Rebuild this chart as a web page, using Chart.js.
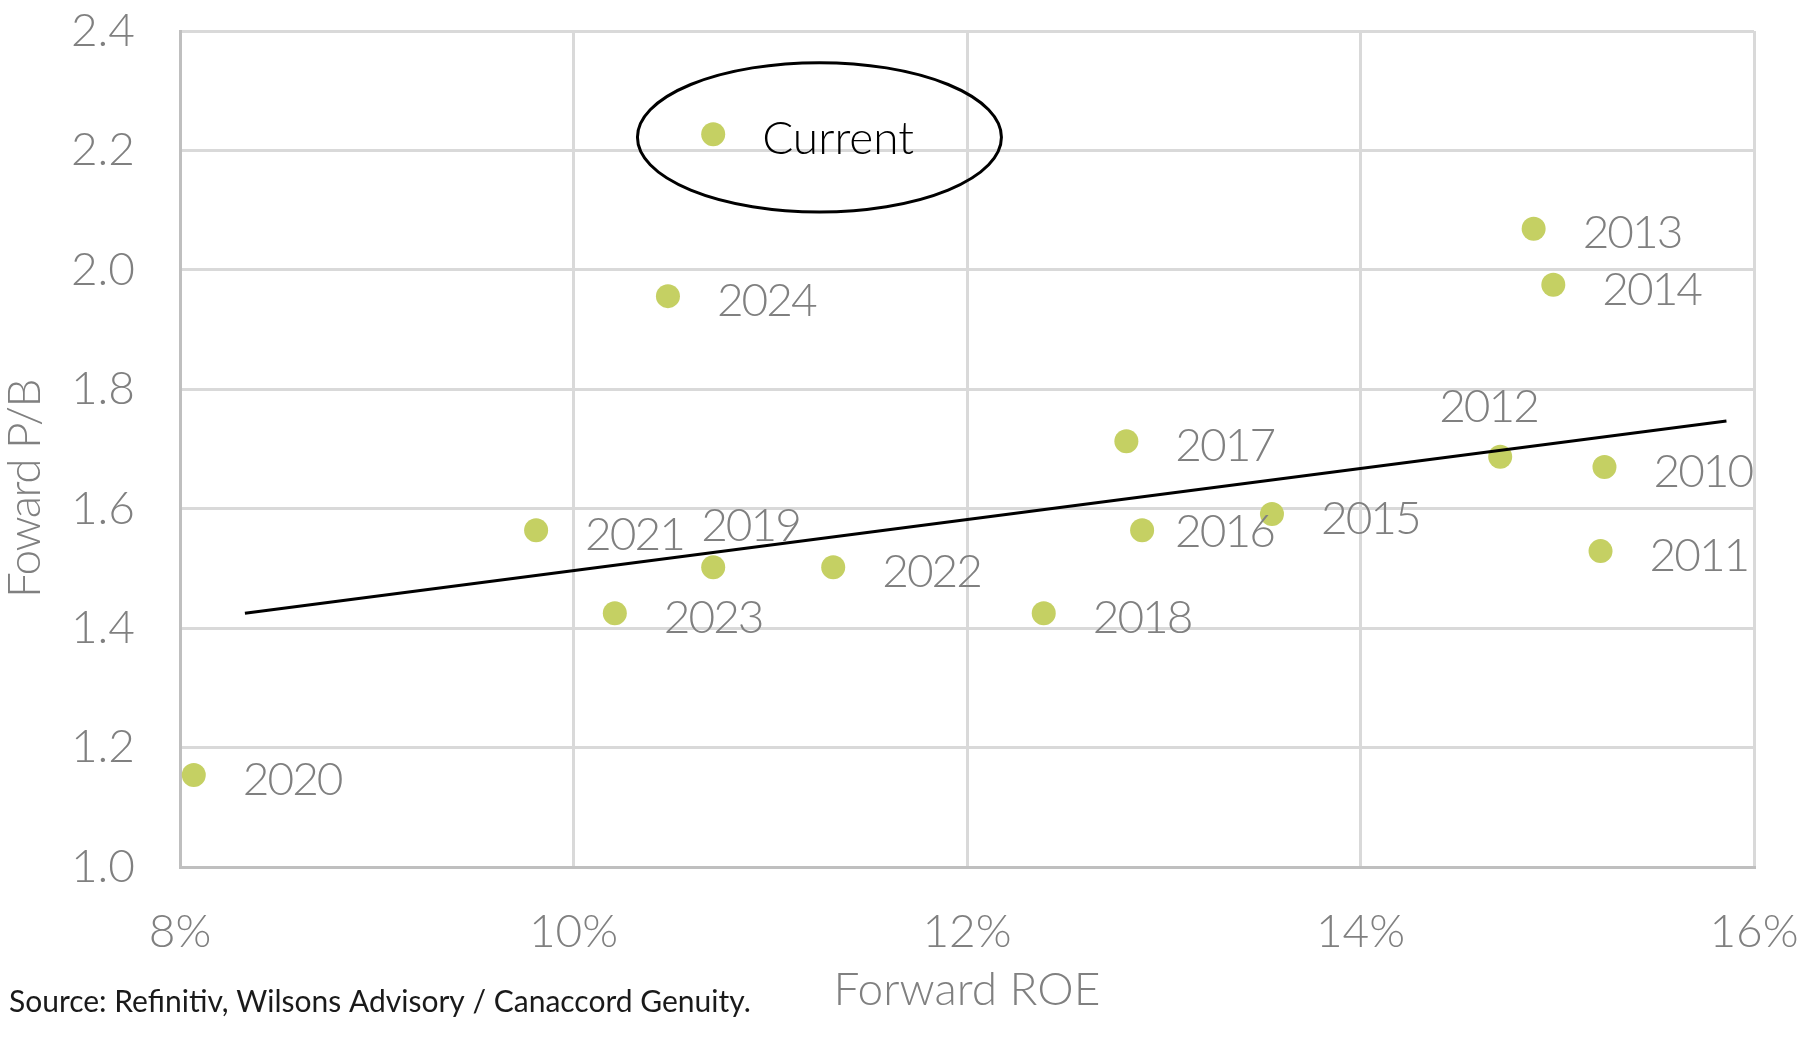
<!DOCTYPE html>
<html>
<head>
<meta charset="utf-8">
<title>Forward P/B vs Forward ROE</title>
<script src="https://cdn.jsdelivr.net/npm/chart.js@4.4.1/dist/chart.umd.min.js"></script>
<style>
  html, body { margin: 0; padding: 0; background: #fff; }
  #wrap { position: relative; width: 1800px; height: 1052px; }
</style>
</head>
<body>
<div id="wrap">
  <canvas id="pbChart" width="1800" height="1052"></canvas>
</div>
<script>
// values
const years = ['2010', '2011', '2012', '2013', '2014', '2015', '2016', '2017',
               '2018', '2019', '2020', '2021', '2022', '2023', '2024', 'Current'];
const forwardRoe = [15.24, 15.22, 14.71, 14.88, 14.98, 13.55, 12.89, 12.81,
                    12.39, 10.71, 8.07, 9.81, 11.32, 10.21, 10.48, 10.71];
const forwardPb = [1.670, 1.529, 1.687, 2.069, 1.975, 1.591, 1.564, 1.713,
                   1.425, 1.502, 1.154, 1.564, 1.502, 1.425, 1.956, 2.227];

// trend line end points
const trendRoe = [8.33, 15.86];
const trendPb = [1.425, 1.747];

// ellipse round "Current": centre and radii in axis units
const ringCentre = [11.25, 2.222];
const ringRadius = [0.925, 0.125];

const xTicks = [8, 10, 12, 14, 16];
const yTicks = [1.0, 1.2, 1.4, 1.6, 1.8, 2.0, 2.2, 2.4];

const FONT = 'Lato';
const GREY = '#808080';
const DOT = '#c5d063';

// label placement (pixels from the dot)
const labelShift = { dx: 49, dy: 5 };
const labelNudge = {
  '2016': [33, 2],
  '2019': [-12, -41],
  '2012': [-61, -50]
};

// stop the scales from adding room for their end labels
function noEdgePadding(s) {
  s.paddingTop = 0;
  s.paddingBottom = 0;
  s.paddingLeft = 0;
  s.paddingRight = 0;
}

const labelPlugin = {
  id: 'pointLabels',
  afterDatasetsDraw(chart) {
    const { ctx, scales } = chart;
    const meta = chart.getDatasetMeta(1);

    // ring round the current point
    const cx = scales.x.getPixelForValue(ringCentre[0]);
    const cy = scales.y.getPixelForValue(ringCentre[1]);
    const rx = scales.x.getPixelForValue(ringCentre[0] + ringRadius[0]) - cx;
    const ry = cy - scales.y.getPixelForValue(ringCentre[1] + ringRadius[1]);
    ctx.save();
    ctx.beginPath();
    ctx.ellipse(cx, cy, rx, ry, 0, 0, Math.PI * 2);
    ctx.strokeStyle = '#000';
    ctx.lineWidth = 3;
    ctx.stroke();

    ctx.font = '300 46px ' + FONT;
    ctx.textAlign = 'left';
    ctx.textBaseline = 'middle';
    meta.data.forEach((pt, i) => {
      const name = years[i];
      const nudge = labelNudge[name] || [labelShift.dx, labelShift.dy];
      ctx.fillStyle = name === 'Current' ? '#000' : GREY;
      ctx.letterSpacing = name === 'Current' ? '0px' : '-2px';
      ctx.fillText(name, pt.x + nudge[0], pt.y + nudge[1]);
    });
    ctx.letterSpacing = '0px';
    ctx.restore();
  },
  afterDraw(chart) {
    const { ctx } = chart;
    ctx.save();
    // y axis title
    ctx.translate(25, 489);
    ctx.rotate(-Math.PI / 2);
    ctx.font = '300 46px ' + FONT;
    ctx.fillStyle = GREY;
    ctx.textAlign = 'center';
    ctx.textBaseline = 'middle';
    ctx.letterSpacing = '-1.5px';
    ctx.fillText('Foward P/B', 0, 0);
    ctx.letterSpacing = '0px';
    ctx.restore();

    ctx.save();
    ctx.font = '400 30px ' + FONT;
    ctx.fillStyle = '#1a1a1a';
    ctx.textAlign = 'left';
    ctx.textBaseline = 'alphabetic';
    ctx.fillText('Source: Refinitiv, Wilsons Advisory / Canaccord Genuity.', 9, 1012);
    ctx.restore();
  }
};

const ctx = document.getElementById('pbChart').getContext('2d');

const chart = new Chart(ctx, {
  type: 'scatter',
  data: {
    datasets: [
      {
        type: 'line',
        label: 'Trend',
        data: trendRoe.map((x, i) => ({ x, y: trendPb[i] })),
        borderColor: '#000',
        borderWidth: 3,
        pointRadius: 0,
        fill: false
      },
      {
        label: 'Forward P/B',
        data: forwardRoe.map((x, i) => ({ x, y: forwardPb[i] })),
        backgroundColor: DOT,
        borderWidth: 0,
        pointRadius: 12,
        pointHoverRadius: 12
      }
    ]
  },
  options: {
    responsive: false,
    animation: false,
    devicePixelRatio: 1,
    layout: { padding: { top: 31, right: 46, bottom: 0, left: 0 } },
    plugins: {
      legend: { display: false },
      tooltip: { enabled: false }
    },
    scales: {
      x: {
        type: 'linear',
        min: xTicks[0],
        max: xTicks[xTicks.length - 1],
        afterBuildTicks: (s) => { s.ticks = xTicks.map(v => ({ value: v })); },
        afterFit: (s) => { s.height = 185; noEdgePadding(s); },
        ticks: {
          callback: (v) => v + '%',
          color: GREY,
          font: { family: FONT, size: 46, weight: '300' },
          padding: 38,
          maxRotation: 0
        },
        grid: { color: '#d9d9d9', lineWidth: 3, drawTicks: false },
        border: { color: '#bfbfbf', width: 3 },
        title: {
          display: true,
          text: 'Forward ROE',
          color: GREY,
          font: { family: FONT, size: 46, weight: '300' },
          padding: { top: 0, bottom: 34 }
        }
      },
      y: {
        type: 'linear',
        min: yTicks[0],
        max: yTicks[yTicks.length - 1],
        afterBuildTicks: (s) => { s.ticks = yTicks.map(v => ({ value: v })); },
        afterFit: (s) => { s.width = 180; noEdgePadding(s); },
        ticks: {
          callback: (v) => Number(v).toFixed(1),
          color: GREY,
          font: { family: FONT, size: 46, weight: '300' },
          padding: 45
        },
        grid: { color: '#d9d9d9', lineWidth: 3, drawTicks: false },
        border: { color: '#bfbfbf', width: 3 }
      }
    }
  },
  plugins: [labelPlugin]
});
</script>
</body>
</html>
